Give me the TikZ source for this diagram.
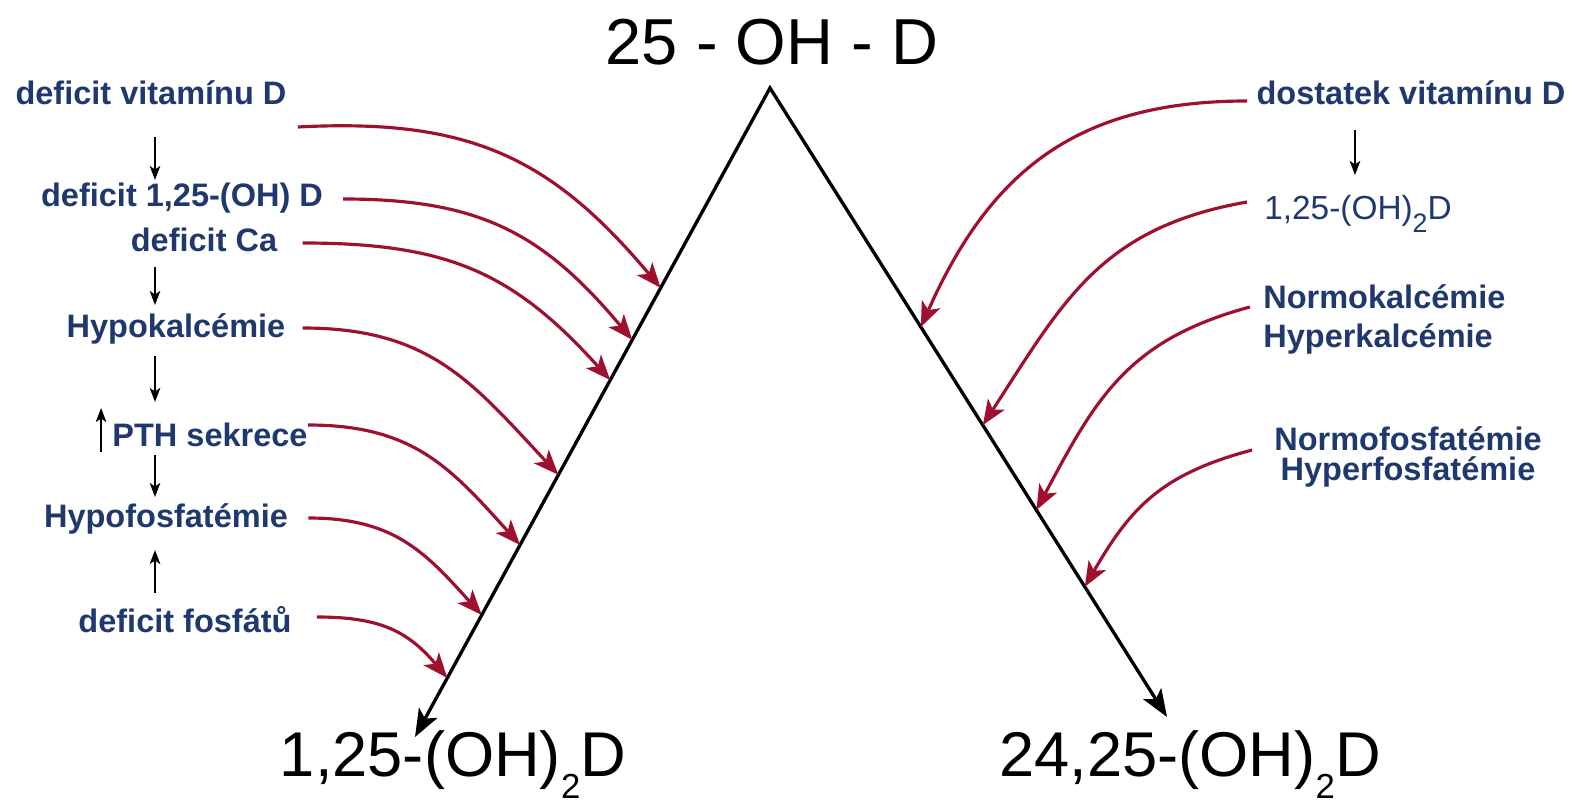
\documentclass[tikz,border=0pt]{standalone}
\usepackage{fontspec}
\setmainfont{Liberation Sans}
\usetikzlibrary{arrows.meta,calc}
\definecolor{navy}{RGB}{31,56,110}
\definecolor{darkred}{RGB}{158,16,46}
\newcommand{\lowtwo}[2]{\raisebox{-#1em}{\scalebox{#2}{2}}}
\begin{document}
\begin{tikzpicture}[x=0.02cm, y=-0.02cm,
        lbl/.style={font=\fontsize{18.5}{22}\selectfont\bfseries, text=navy, inner sep=0pt, anchor=base},
        big/.style={font=\fontsize{36}{40}\selectfont, inner sep=0pt, anchor=base},
        mainarr/.style={line width=1.9pt, line join=miter, {Stealth[length=5.5mm,width=4.2mm,inset=1.3mm]}-{Stealth[length=5.5mm,width=4.2mm,inset=1.3mm]}},
        redarr/.style={draw=darkred, line width=1.8pt, looseness=1.1, -{Stealth[length=5mm,width=4mm,inset=1.3mm]}},
        smallarr/.style={line width=1.2pt, -{Stealth[length=2.8mm,width=2.1mm,inset=0.7mm]}}]
        \useasboundingbox (0,0) rectangle (1572,807);

        \node[big, font=\fontsize{37}{40}\selectfont] (top) at (772,65) {25 - OH - D};
        \node[big] (act) at (453,776) {1,25-(OH)\lowtwo{0.36}{0.55}D};
        \node[big] (inact) at (1190,776) {24,25-(OH)\lowtwo{0.36}{0.55}D};

        \node[lbl] (defd) at (151,105) {deficit vitamínu D};
        \node[lbl] (defoh) at (182,207) {deficit 1,25-(OH) D};
        \node[lbl] (defca) at (204,252) {deficit Ca};
        \node[lbl] (hypoca) at (176,338) {Hypokalcémie};
        \node[lbl] (pth) at (210,446) {PTH sekrece};
        \node[lbl] (hypop) at (166,527) {Hypofosfatémie};
        \node[lbl] (defp) at (185,632) {deficit fosfátů};

        \node[lbl] (dost) at (1411,105) {dostatek vitamínu D};
        \node[lbl, font=\fontsize{19}{22}\selectfont] (oh2) at (1358,220) {1,25-(OH)\lowtwo{0.37}{0.8}D};
        \node[lbl, anchor=north west, align=left, font=\fontsize{18.5}{22.1}\selectfont\bfseries] (normca) at (1263,284) {Normokalcémie\\Hyperkalcémie};
        \node[lbl, anchor=north, align=center, font=\fontsize{18.5}{17}\selectfont\bfseries] (normp) at (1408,426) {Normofosfatémie\\Hyperfosfatémie};

        \coordinate (apex) at (770,88);
        \coordinate (lend) at (415,737);
        \coordinate (rend) at (1167,717);
        \coordinate (col) at (155,0);
        \coordinate (rcol) at (1355,0);

        \draw[mainarr] (lend) -- (apex) -- (rend);

        \draw[smallarr] ($(defd.base -| col)+(0,32)$) -- ($(defoh.base -| col)+(0,-27)$);
        \draw[smallarr] ($(defca.base -| col)+(0,15)$) -- ($(hypoca.base -| col)+(0,-33)$);
        \draw[smallarr] ($(hypoca.base -| col)+(0,18)$) -- ($(pth.base -| col)+(0,-44)$);
        \draw[smallarr] ($(pth.base -| col)+(0,9)$) -- ($(hypop.base -| col)+(0,-30)$);
        \draw[smallarr] ($(defp.base -| col)+(0,-39)$) -- ($(hypop.base -| col)+(0,23)$);
        \draw[smallarr] ($(pth.base west)+(-11,6)$) -- ($(pth.base west)+(-11,-38)$);
        \draw[smallarr] ($(dost.base -| rcol)+(0,25)$) -- ($(oh2.base -| rcol)+(0,-45)$);

        \draw[redarr] ($(defd.base east)+(11,22)$) to[out=3,in=130] ($(apex)!0.308!(lend)$);
        \draw[redarr] ($(defoh.base east)+(20,-8)$) to[out=0,in=130] ($(apex)!0.388!(lend)$);
        \draw[redarr] ($(defca.base east)+(25,-9)$) to[out=0,in=132] ($(apex)!0.450!(lend)$);
        \draw[redarr] ($(hypoca.base east)+(17,-10)$) to[out=0,in=133] ($(apex)!0.596!(lend)$);
        \draw[redarr] ($(pth.base east)+(0,-21)$) to[out=0,in=132] ($(apex)!0.704!(lend)$);
        \draw[redarr] ($(hypop.base east)+(20,-9)$) to[out=0,in=132] ($(apex)!0.812!(lend)$);
        \draw[redarr] ($(defp.base east)+(25,-15)$) to[out=0,in=130] ($(apex)!0.909!(lend)$);

        \draw[redarr] ($(dost.base west)+(-9,-4)$) to[out=180,in=66] ($(apex)!0.380!(rend)$);
        \draw[redarr] ($(oh2.base west)+(-17,-18)$) to[out=190,in=57] ($(apex)!0.536!(rend)$);
        \draw[redarr] ($(normca.north west)+(-13,23)$) to[out=195,in=62] ($(apex)!0.671!(rend)$);
        \draw[redarr] ($(normp.north west)+(-22,24)$) to[out=195,in=60] ($(apex)!0.793!(rend)$);
    \end{tikzpicture}
\end{document}
